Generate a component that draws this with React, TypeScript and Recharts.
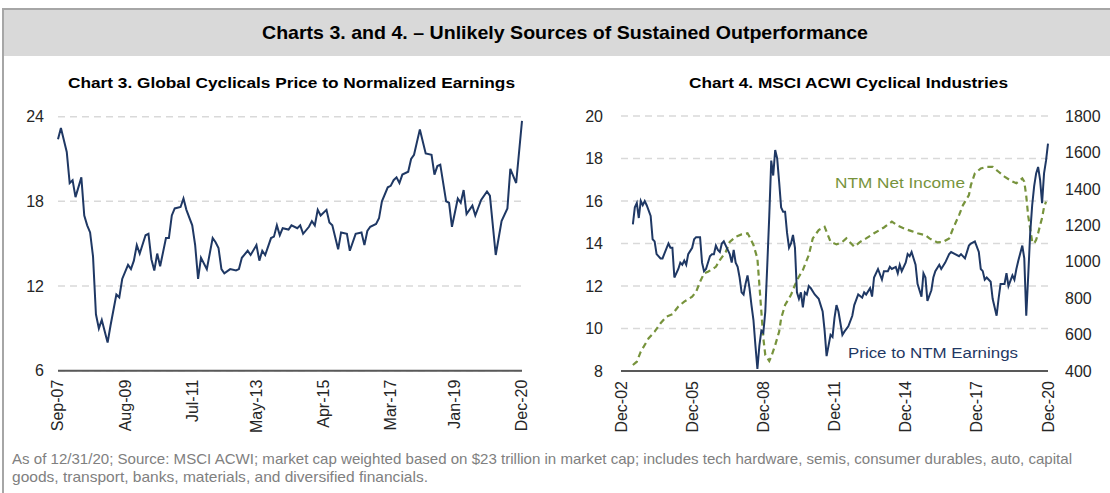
import React from 'react';
import { LineChart, Line, XAxis, YAxis, CartesianGrid } from 'recharts';

const FONT = 'Liberation Sans, Arial, sans-serif';
const NARROW = 'Liberation Sans Narrow, Arial Narrow, Liberation Sans, Arial, sans-serif';

// ---------- Chart 3 (months since Sep-07) ----------
const chart3TickMonths = [0, 23, 46, 68, 91, 114, 136, 159];
const chart3TickLabels = ['Sep-07', 'Aug-09', 'Jul-11', 'May-13', 'Apr-15', 'Mar-17', 'Jan-19', 'Dec-20'];
const chart3YTicks = [6, 12, 18, 24];
const chart3Months = [
  0, 1, 3, 4, 5, 6, 8, 9, 10, 11, 12, 13, 14, 15, 17, 18, 20, 21, 22, 24, 25, 26, 27, 28, 30, 31, 32, 33, 34, 35,
  37, 38, 39, 40, 42, 43, 44, 46, 47, 48, 49, 51, 53, 54, 55, 56, 57, 59, 61, 62, 63, 65, 66, 68, 69, 70, 71, 73, 74, 75,
  76, 77, 79, 80, 82, 83, 84, 86, 87, 88, 89, 90, 92, 93, 94, 96, 97, 99, 100, 102, 104, 105, 106, 107, 109, 110, 111, 113, 114, 115,
  116, 117, 118, 120, 121, 122, 124, 126, 128, 129, 130, 131, 133, 134, 135, 137, 138, 139, 140, 142, 143, 145, 147, 148, 150, 152, 154, 155, 157, 159,
];
const chart3Values = [
  22.4, 23.2, 21.5, 19.3, 19.5, 18.3, 19.7, 17.0, 16.3, 15.8, 14.1, 10.0, 9.0, 9.6, 8.0, 9.2, 11.4, 11.2, 12.5, 13.5, 13.2, 13.8, 14.9, 14.3, 15.6, 15.7, 13.9, 13.1, 14.3, 13.4,
  15.4, 15.4, 17.0, 17.5, 17.6, 18.2, 17.4, 16.3, 14.9, 12.5, 14.0, 13.2, 15.4, 15.1, 14.7, 13.2, 12.9, 13.2, 13.1, 13.2, 14.0, 14.5, 14.2, 14.9, 13.8, 14.5, 14.2, 15.4, 15.5, 16.3,
  15.6, 16.1, 16.0, 16.3, 16.1, 16.3, 15.7, 16.2, 16.6, 16.3, 17.4, 17.0, 17.4, 16.5, 16.3, 14.6, 15.8, 15.7, 14.5, 15.7, 15.8, 14.9, 15.9, 16.2, 16.4, 16.8, 18.0, 19.0, 19.1, 19.5,
  19.7, 19.3, 19.9, 20.1, 21.0, 21.3, 23.1, 21.4, 21.3, 19.9, 20.5, 20.6, 18.0, 17.9, 16.2, 18.2, 17.9, 18.8, 17.1, 17.7, 17.0, 18.1, 18.7, 18.4, 14.2, 16.6, 17.5, 20.3, 19.3, 23.7,
];

// ---------- Chart 4 (months since Dec-02) ----------
const chart4TickMonths = [0, 36, 72, 108, 144, 180, 216];
const chart4TickLabels = ['Dec-02', 'Dec-05', 'Dec-08', 'Dec-11', 'Dec-14', 'Dec-17', 'Dec-20'];
const chart4LeftTicks = [8, 10, 12, 14, 16, 18, 20];
const chart4RightTicks = [400, 600, 800, 1000, 1200, 1400, 1600, 1800];

const peMonths = [
  6, 7, 8, 9, 10, 11, 12, 13, 15, 16, 17, 18, 20, 21, 24, 25, 26, 27, 29, 30, 31, 32, 33, 34, 36, 37, 38, 40, 41, 42,
  43, 45, 46, 47, 48, 49, 50, 51, 52, 53, 55, 56, 57, 58, 59, 60, 61, 62, 63, 64, 65, 66, 67, 68, 69, 70, 71, 72, 73, 74,
  75, 76, 77, 78, 79, 80, 81, 82, 83, 84, 85, 86, 87, 88, 89, 90, 91, 92, 93, 94, 95, 96, 98, 100, 101, 102, 103, 104, 106, 107,
  108, 109, 110, 112, 113, 115, 117, 118, 120, 122, 123, 124, 126, 127, 128, 130, 132, 133, 135, 136, 137, 139, 140, 141, 142, 144, 145, 146, 147, 149,
  150, 152, 153, 154, 155, 157, 158, 159, 161, 162, 164, 166, 167, 169, 171, 172, 174, 176, 177, 179, 181, 182, 183, 184, 185, 187, 188, 189, 190, 191,
  192, 194, 195, 196, 198, 199, 200, 201, 203, 204, 205, 206, 207, 208, 209, 210, 211, 212, 213, 214, 215, 216,
];
const peValues = [
  14.9, 15.7, 15.9, 15.2, 16.0, 15.8, 16.0, 15.8, 15.3, 14.2, 14.1, 13.5, 13.3, 13.3, 14.0, 13.8, 13.8, 12.4, 12.8, 13.1, 13.0, 13.2, 13.0, 13.5, 13.8, 14.2, 14.3, 14.3, 13.1, 12.7,
  12.8, 13.4, 13.5, 13.5, 13.9, 13.7, 13.6, 14.0, 14.1, 13.9, 13.5, 13.1, 13.7, 13.1, 12.9, 12.4, 11.7, 11.6, 12.1, 12.5, 11.9, 11.1, 10.4, 9.2, 8.1, 9.2, 9.9, 9.8, 10.8, 13.0,
  15.3, 17.9, 17.2, 18.4, 18.0, 16.9, 15.7, 15.5, 15.5, 14.5, 13.8, 14.0, 14.4, 13.8, 11.7, 11.4, 11.7, 11.0, 11.7, 11.6, 12.0, 11.9, 11.6, 11.4, 11.1, 10.8, 9.9, 8.7, 9.7, 9.6,
  10.5, 11.1, 10.8, 9.7, 9.85, 10.1, 10.6, 11.1, 11.6, 11.45, 11.7, 11.6, 11.9, 11.5, 12.4, 12.8, 12.3, 12.7, 12.7, 12.9, 12.8, 12.9, 12.6, 13.0, 12.7, 13.1, 13.5, 13.4, 13.6, 13.0,
  12.1, 11.5, 12.6, 12.4, 11.3, 11.8, 12.4, 12.7, 13.0, 12.8, 13.1, 13.5, 13.6, 13.5, 13.4, 13.5, 13.3, 13.9, 14.0, 14.1, 13.6, 12.8, 12.7, 12.3, 12.4, 12.2, 11.4, 11.0, 10.6, 11.4,
  12.1, 12.1, 12.6, 12.0, 12.5, 12.3, 12.8, 13.2, 13.9, 13.3, 10.6, 12.5, 14.5, 15.8, 16.7, 17.3, 17.6, 17.0, 15.9, 17.3, 17.9, 18.7,
];

const niMonths = [
  6, 8, 10, 14, 17, 20, 23, 26, 29, 32, 36, 38, 40, 42, 44, 48, 50, 53, 55, 58, 61, 64, 65, 67, 69, 70, 71, 72, 73, 75,
  76, 78, 80, 81, 83, 86, 88, 90, 92, 95, 97, 100, 103, 106, 109, 112, 114, 118, 121, 124, 128, 133, 137, 140, 144, 147, 150, 154, 156, 160,
  163, 166, 168, 171, 173, 176, 177, 179, 182, 185, 188, 191, 194, 198, 200, 203, 204, 205, 206, 207, 208, 209, 210, 211, 212, 213, 214, 215,
];
const niValues = [
  433, 451, 506, 580, 616, 662, 699, 712, 754, 781, 808, 835, 890, 936, 945, 972, 1009, 1054, 1109, 1137, 1150, 1156, 1137, 1092, 1018, 872, 726, 580, 487, 455,
  478, 542, 616, 689, 762, 818, 872, 918, 954, 1037, 1128, 1174, 1192, 1109, 1095, 1109, 1128, 1082, 1109, 1128, 1156, 1188, 1220, 1198, 1179, 1168, 1156, 1146, 1128, 1106,
  1109, 1128, 1183, 1256, 1311, 1366, 1421, 1485, 1512, 1521, 1521, 1494, 1467, 1440, 1431, 1458, 1440, 1360, 1250, 1180, 1110, 1100, 1120, 1156, 1200, 1240, 1300, 1330,
];

const chart3Data = chart3Months.map((m, i) => ({ m, v: chart3Values[i] }));
const peData = peMonths.map((m, i) => ({ m, v: peValues[i] }));
const niData = niMonths.map((m, i) => ({ m, v: niValues[i] }));

const makeRotTick = (months: number[], labels: string[]) => (props: any) => {
  const { x, y, payload } = props;
  const idx = months.indexOf(payload.value);
  const label = idx >= 0 ? labels[idx] : '';
  return (
    <text
      x={x}
      y={y}
      transform={`rotate(-90 ${x} ${y})`}
      textAnchor="end"
      dominantBaseline="central"
      fontSize={16}
      fill="#262626"
      fontFamily={FONT}
    >
      {label}
    </text>
  );
};

const Rot3 = makeRotTick(chart3TickMonths, chart3TickLabels);
const Rot4 = makeRotTick(chart4TickMonths, chart4TickLabels);

const yTick = { fontSize: 16, fill: '#262626', fontFamily: FONT };
const NAVY = '#1f3864';
const GREEN = '#77933c';

export default function App() {
  return (
    <div style={{ position: 'absolute', left: 0, top: 0, width: 1110, height: 493, background: '#fff', overflow: 'hidden' }}>
      <svg width={1110} height={493} style={{ position: 'absolute', left: 0, top: 0 }}>
        <rect x={3} y={9} width={1107} height={47} fill="#d9d9d9" />
        <line x1={3} y1={9} x2={1110} y2={9} stroke="#a6a6a6" strokeWidth={2} />
        <line x1={3} y1={8} x2={3} y2={493} stroke="#a6a6a6" strokeWidth={2} />
      </svg>

      <div style={{ position: 'absolute', left: 0, top: 0 }}>
        <LineChart width={550} height={450} data={chart3Data} margin={{ top: 116.7, right: 28, bottom: 0, left: 0 }}>
          <CartesianGrid vertical={false} stroke="#d9d9d9" strokeDasharray="7 5" strokeWidth={1.5} />
          <XAxis
            dataKey="m"
            type="number"
            domain={[0, 159]}
            ticks={chart3TickMonths}
            interval={0}
            tick={Rot3}
            tickLine={false}
            tickSize={0}
            tickMargin={9}
            height={79.3}
            axisLine={{ stroke: '#595959', strokeWidth: 2 }}
          />
          <YAxis
            type="number"
            domain={[6, 24]}
            ticks={chart3YTicks}
            interval={0}
            width={58}
            axisLine={false}
            tickLine={false}
            tickSize={0}
            tickMargin={14}
            tick={yTick}
          />
          <Line dataKey="v" stroke={NAVY} strokeWidth={2} dot={false} isAnimationActive={false} />
        </LineChart>
      </div>

      <div style={{ position: 'absolute', left: 560, top: 0 }}>
        <LineChart width={550} height={450} margin={{ top: 116, right: 0, bottom: 0, left: 0 }}>
          <CartesianGrid vertical={false} yAxisId="l" stroke="#d9d9d9" strokeDasharray="7 5" strokeWidth={1.5} />
          <XAxis
            dataKey="m"
            type="number"
            domain={[0, 216]}
            ticks={chart4TickMonths}
            interval={0}
            tick={Rot4}
            tickLine={false}
            tickSize={0}
            tickMargin={10}
            height={79}
            axisLine={{ stroke: '#595959', strokeWidth: 2 }}
          />
          <YAxis
            yAxisId="l"
            orientation="left"
            type="number"
            domain={[8, 20]}
            ticks={chart4LeftTicks}
            interval={0}
            width={61}
            axisLine={false}
            tickLine={false}
            tickSize={0}
            tickMargin={18}
            tick={yTick}
          />
          <YAxis
            yAxisId="r"
            orientation="right"
            type="number"
            domain={[400, 1800]}
            ticks={chart4RightTicks}
            interval={0}
            width={62}
            axisLine={false}
            tickLine={false}
            tickSize={0}
            tickMargin={17}
            tick={yTick}
          />
          <Line yAxisId="r" data={niData} dataKey="v" stroke={GREEN} strokeWidth={2.2} strokeDasharray="6 4" dot={false} isAnimationActive={false} />
          <Line yAxisId="l" data={peData} dataKey="v" stroke={NAVY} strokeWidth={2} dot={false} isAnimationActive={false} />
        </LineChart>
      </div>

      <svg width={1110} height={493} style={{ position: 'absolute', left: 0, top: 0, pointerEvents: 'none' }}>
        <text x={262} y={39} fontSize={19} fontWeight="bold" fontFamily={NARROW} fill="#000" textLength={606} lengthAdjust="spacingAndGlyphs">
          Charts 3. and 4. – Unlikely  Sources of Sustained Outperformance
        </text>
        <text x={68} y={88} fontSize={14} fontWeight="bold" fontFamily={FONT} fill="#000" textLength={447} lengthAdjust="spacingAndGlyphs">
          Chart 3. Global Cyclicals Price to Normalized Earnings
        </text>
        <text x={689} y={88} fontSize={14} fontWeight="bold" fontFamily={FONT} fill="#000" textLength={319} lengthAdjust="spacingAndGlyphs">
          Chart 4. MSCI ACWI  Cyclical Industries
        </text>
        <text x={835} y={188} fontSize={15.5} fontFamily={FONT} fill={GREEN} textLength={130} lengthAdjust="spacingAndGlyphs">
          NTM Net Income
        </text>
        <text x={848} y={358} fontSize={15.5} fontFamily={FONT} fill={NAVY} textLength={170} lengthAdjust="spacingAndGlyphs">
          Price to NTM Earnings
        </text>
        <text x={12} y={464} fontSize={15} fontFamily={NARROW} fill="#808080" textLength={1060} lengthAdjust="spacingAndGlyphs">
          As of 12/31/20; Source: MSCI ACWI; market cap weighted based on $23 trillion in market cap; includes tech hardware, semis, consumer durables, auto, capital
        </text>
        <text x={12} y={482} fontSize={15} fontFamily={NARROW} fill="#808080" textLength={416} lengthAdjust="spacingAndGlyphs">
          goods, transport, banks, materials, and diversified financials.
        </text>
      </svg>
    </div>
  );
}
